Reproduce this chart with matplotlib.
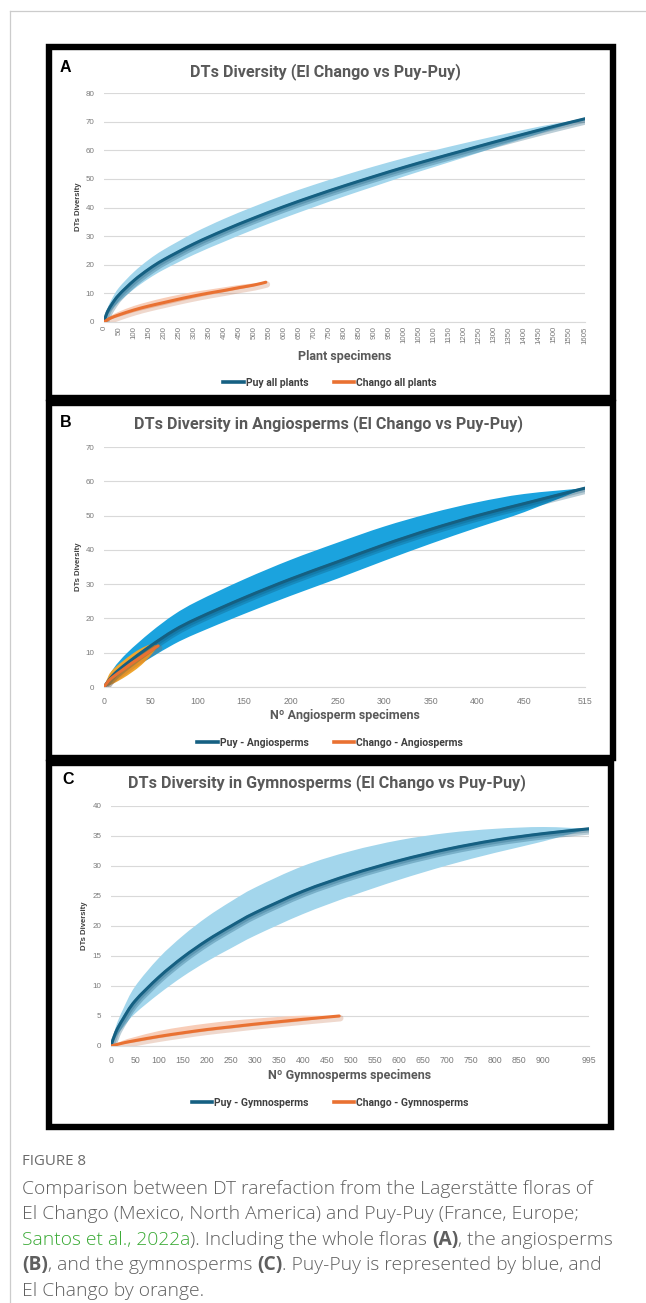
import numpy as np
import matplotlib
matplotlib.use("Agg")
import matplotlib.pyplot as plt
import matplotlib.patheffects as pe
from matplotlib.lines import Line2D
from matplotlib.patches import Rectangle, PathPatch
from matplotlib.path import Path

W, H = 646, 1303

# ---------------- data ----------------
# Panel A: whole floras
a_puy_x = [0, 10, 25, 50, 100, 150, 200, 300, 400, 500, 600, 700, 800, 900, 1000, 1100, 1200, 1300, 1400, 1500, 1605]
a_puy_y = [0, 3.2, 6.0, 9.5, 14.5, 18.5, 21.8, 27.3, 32.0, 36.3, 40.3, 44.0, 47.5, 50.8, 54.0, 57.0, 59.9, 62.8, 65.6, 68.3, 71.0]
a_puy_hi = [0, 4.3, 7.8, 12.0, 17.5, 21.8, 25.3, 31.1, 36.0, 40.3, 44.3, 47.9, 51.2, 54.3, 57.2, 59.9, 62.4, 64.8, 67.1, 69.2, 71.0]
a_puy_lo = [0, 2.1, 4.2, 7.0, 11.5, 15.2, 18.3, 23.5, 28.0, 32.3, 36.3, 40.1, 43.8, 47.3, 50.8, 54.1, 57.4, 60.8, 64.1, 67.4, 71.0]

a_chg_x = [0, 10, 25, 50, 100, 150, 200, 250, 300, 350, 400, 450, 500, 540]
a_chg_y = [0, 0.7, 1.5, 2.5, 4.2, 5.6, 6.8, 8.0, 9.1, 10.1, 11.0, 12.0, 12.9, 13.9]
a_chg_hi = [0, 1.2, 2.3, 3.6, 5.6, 7.1, 8.4, 9.5, 10.5, 11.3, 12.1, 12.9, 13.5, 13.9]
a_chg_lo = [0, 0.4, 1.0, 1.8, 3.4, 4.7, 5.9, 7.1, 8.3, 9.4, 10.4, 11.4, 12.5, 13.9]

# Panel B: angiosperms
b_puy_x = [0, 10, 25, 50, 75, 100, 150, 200, 250, 300, 350, 400, 450, 515]
b_puy_y = [0, 3.5, 7.0, 12.0, 16.5, 20.0, 26.0, 31.5, 36.5, 41.5, 46.0, 50.0, 53.5, 58.0]
b_puy_hi = [0, 5.3, 10.0, 16.0, 21.1, 25.0, 31.4, 37.1, 42.1, 46.8, 50.7, 53.9, 56.3, 58.0]
b_puy_lo = [0, 1.9, 4.4, 8.5, 12.5, 15.7, 21.3, 26.6, 31.6, 36.8, 41.8, 46.5, 51.0, 58.0]

b_chg_x = [0, 5, 10, 20, 30, 40, 50, 58]
b_chg_y = [0, 1.8, 3.0, 5.0, 7.0, 8.8, 10.6, 12.0]
b_chg_hi = [0, 3.4, 5.2, 7.5, 9.6, 11.3, 12.4, 12.0]
b_chg_lo = [0, 0.4, 1.0, 2.5, 4.3, 6.4, 9.2, 12.0]

# Panel C: gymnosperms
c_puy_x = [0, 10, 25, 50, 100, 150, 200, 250, 300, 400, 500, 600, 700, 800, 900, 995]
c_puy_y = [0, 2.3, 4.5, 7.5, 11.5, 14.8, 17.6, 20.0, 22.2, 25.8, 28.6, 30.9, 32.8, 34.3, 35.4, 36.2]
c_puy_hi = [0, 3.2, 6.1, 9.9, 14.7, 18.4, 21.5, 24.1, 26.4, 30.0, 32.5, 34.3, 35.5, 36.2, 36.5, 36.2]
c_puy_lo = [0, 1.5, 3.1, 5.4, 8.7, 11.6, 14.1, 16.3, 18.4, 22.0, 25.0, 27.7, 30.1, 32.2, 34.1, 36.2]

c_chg_x = [0, 25, 50, 100, 150, 200, 250, 300, 350, 400, 475]
c_chg_y = [0, 0.5, 0.9, 1.6, 2.2, 2.75, 3.2, 3.65, 4.05, 4.45, 5.0]
c_chg_hi = [0, 0.9, 1.5, 2.5, 3.2, 3.75, 4.2, 4.55, 4.85, 5.05, 5.0]
c_chg_lo = [0, 0.3, 0.6, 1.3, 1.9, 2.45, 2.9, 3.35, 3.75, 4.15, 5.0]

a_xticks = list(range(0, 1551, 50)) + [1605]
b_xticks = list(range(0, 451, 50)) + [515]
c_xticks = list(range(0, 901, 50)) + [995]

titles = ["DTs Diversity (El Chango vs Puy-Puy)",
          "DTs Diversity in Angiosperms (El Chango vs Puy-Puy)",
          "DTs Diversity in Gymnosperms (El Chango vs Puy-Puy)"]
xlabels = ["Plant specimens", "Nº Angiosperm specimens", "Nº Gymnosperms specimens"]
legend_labels = [("Puy all plants", "Chango all plants"),
                 ("Puy - Angiosperms", "Chango - Angiosperms"),
                 ("Puy - Gymnosperms", "Chango - Gymnosperms")]

# ---------------- style ----------------
PUY = "#156082"
CHG = "#E97132"
PUY_BAND_LIGHT = "#A3D6EC"
PUY_BAND_BRIGHT = "#1BA3DE"
CHG_BAND_LIGHT = "#F8CDB8"
CHG_BAND_GOLD = "#EFA52E"
GRID = "#D9D9D9"
TICK = "#7A7A7A"
TEXT = "#595959"

NARROW = ["Liberation Sans Narrow", "Roboto", "DejaVu Sans"]
SANS = ["Liberation Sans", "DejaVu Sans"]

fig = plt.figure(figsize=(W / 100, H / 100), dpi=100)
fig.patch.set_facecolor("white")


def fx(x):
    return x / W


def fy(y):
    return 1 - y / H


def axes_px(l, t, r, b):
    return fig.add_axes([fx(l), fy(b), (r - l) / W, (b - t) / H])


# page frame lines
fig.add_artist(Line2D([fx(10), fx(646)], [fy(11), fy(11)], color="#CCCCCC", lw=0.9))
fig.add_artist(Line2D([fx(10), fx(10)], [fy(11), fy(1303)], color="#CCCCCC", lw=0.9))

# panel frames
for (l, t, r, b) in [(49, 47, 613, 398), (49, 403, 613, 758), (49, 763, 611, 1127)]:
    fig.add_artist(Rectangle((fx(l), fy(b)), (r - l) / W, (b - t) / H, fill=False,
                             edgecolor="black", lw=4.6, transform=fig.transFigure))

# soft drop shadow under the curves
shadow = [pe.SimpleLineShadow(offset=(0.8, -1.6), shadow_color="#0C4F70", alpha=0.28, linewidth=5.0),
          pe.SimpleLineShadow(offset=(0.5, -0.8), shadow_color="#0C4F70", alpha=0.25, linewidth=3.6),
          pe.Normal()]
shadow_o = [pe.SimpleLineShadow(offset=(0.8, -1.6), shadow_color="#B8501C", alpha=0.22, linewidth=4.6),
            pe.Normal()]


def smooth_path(xs, ys):
    """Smoothed (Catmull-Rom as cubic Bezier) path through the given points."""
    pts = np.column_stack([xs, ys]).astype(float)
    n = len(pts)
    verts = [pts[0]]
    codes = [Path.MOVETO]
    for i in range(n - 1):
        p0 = pts[i - 1] if i > 0 else pts[i]
        p1 = pts[i]
        p2 = pts[i + 1]
        p3 = pts[i + 2] if i + 2 < n else pts[i + 1]
        verts += [p1 + (p2 - p0) / 6.0, p2 - (p3 - p1) / 6.0, p2]
        codes += [Path.CURVE4] * 3
    return verts, codes


def style_axes(ax, xmax, ymax, ystep, xticks, rot, xsize, ysize, xpad):
    ax.set_xlim(0, xmax)
    ax.set_ylim(0, ymax)
    ax.set_yticks(list(range(0, ymax + 1, ystep)))
    ax.set_xticks(xticks)
    ax.set_xticklabels([str(v) for v in xticks], rotation=rot, fontsize=xsize, color=TICK,
                       family=SANS)
    ax.set_yticklabels([str(v) for v in range(0, ymax + 1, ystep)], fontsize=ysize, color=TICK,
                       family=SANS)
    ax.tick_params(length=0, pad=xpad, axis="x")
    ax.tick_params(length=0, pad=7, axis="y")
    ax.grid(axis="y", color=GRID, lw=0.8)
    ax.set_axisbelow(True)
    for s in ("top", "right", "left"):
        ax.spines[s].set_visible(False)
    ax.spines["bottom"].set_color(GRID)
    ax.spines["bottom"].set_linewidth(0.8)
    ax.set_facecolor("none")


def draw_series(ax, x, y, lo, hi, band, color, eff, lw=2.2):
    uv, uc = smooth_path(x, hi)
    lv, lc = smooth_path(x[::-1], lo[::-1])
    lc = [Path.LINETO] + lc[1:]
    verts = uv + lv + [uv[0]]
    codes = uc + lc + [Path.CLOSEPOLY]
    ax.add_patch(PathPatch(Path(verts, codes), facecolor=band, edgecolor="none", lw=0, zorder=2))
    v, c = smooth_path(x, y)
    ax.add_patch(PathPatch(Path(v, c), fill=False, edgecolor=color, lw=lw, capstyle="round",
                           zorder=3, path_effects=eff))


# ---------- Panel A ----------
axA = axes_px(104, 93, 585, 322)
style_axes(axA, 1605, 80, 10, a_xticks, 90, 5.7, 5.8, 3)
draw_series(axA, a_puy_x, a_puy_y, a_puy_lo, a_puy_hi, PUY_BAND_LIGHT, PUY, shadow)
draw_series(axA, a_chg_x, a_chg_y, a_chg_lo, a_chg_hi, CHG_BAND_LIGHT, CHG, shadow_o)

# ---------- Panel B ----------
axB = axes_px(104, 447, 585, 687)
style_axes(axB, 515, 70, 10, b_xticks, 0, 6.3, 5.8, 7)
draw_series(axB, b_puy_x, b_puy_y, b_puy_lo, b_puy_hi, PUY_BAND_BRIGHT, PUY, shadow)
draw_series(axB, b_chg_x, b_chg_y, b_chg_lo, b_chg_hi, CHG_BAND_GOLD, CHG, shadow_o)

# ---------- Panel C ----------
axC = axes_px(111, 806, 589, 1046)
style_axes(axC, 995, 40, 5, c_xticks, 0, 6.3, 5.8, 7)
draw_series(axC, c_puy_x, c_puy_y, c_puy_lo, c_puy_hi, PUY_BAND_LIGHT, PUY, shadow)
draw_series(axC, c_chg_x, c_chg_y, c_chg_lo, c_chg_hi, CHG_BAND_LIGHT, CHG, shadow_o)

# ---------- panel texts ----------
panel_letters = ["A", "B", "C"]
letter_pos = [(60, 68), (60, 422), (62, 780)]
title_pos = [(325, 72), (329, 424), (327, 783)]
ylab_pos = [(78, 207), (78, 567), (84, 926)]
xlab_pos = [(345, 357), (345, 716), (350, 1075)]
leg_pos = [(330, 383), (330, 743), (330, 1103)]

for i in range(3):
    lx, ly = letter_pos[i]
    fig.text(fx(lx), fy(ly), panel_letters[i], fontsize=11.5, fontweight="bold",
             family=SANS, color="black", ha="left", va="center")
    tx, ty = title_pos[i]
    fig.text(fx(tx), fy(ty), titles[i], fontsize=11.6, fontweight="bold", family=NARROW,
             color=TEXT, ha="center", va="center")
    yx, yy = ylab_pos[i]
    fig.text(fx(yx), fy(yy), "DTs Diversity", fontsize=5.6, fontweight="bold", family=SANS,
             color="#404040", ha="center", va="center", rotation=90)
    xx, xy = xlab_pos[i]
    fig.text(fx(xx), fy(xy), xlabels[i], fontsize=9, fontweight="bold", family=NARROW,
             color=TEXT, ha="center", va="center")
    handles = [Line2D([], [], color=PUY, lw=2.6), Line2D([], [], color=CHG, lw=2.6)]
    lgx, lgy = leg_pos[i]
    fig.legend(handles, list(legend_labels[i]), loc="center",
               bbox_to_anchor=(fx(lgx), fy(lgy)), ncol=2, frameon=False,
               handlelength=2.0, handletextpad=0.15, columnspacing=2.4,
               prop={"family": NARROW, "weight": "bold", "size": 7.5},
               labelcolor="#404040")

# ---------- caption ----------
renderer = fig.canvas.get_renderer()
CAP = "#5F5F5F"
GREEN = "#3AAA35"
CAP_FONT = ["Open Sans", "DejaVu Sans"]


def run_width(s, **kw):
    t1 = fig.text(0, 0, "|" + s + "|", **kw)
    t2 = fig.text(0, 0, "||", **kw)
    w = t1.get_window_extent(renderer).width - t2.get_window_extent(renderer).width
    t1.remove()
    t2.remove()
    return w


caption_lines = [
    [("Comparison between DT rarefaction from the Lagerstätte floras of", CAP, "light")],
    [("El Chango (Mexico, North America) and Puy-Puy (France, Europe;", CAP, "light")],
    [("Santos et al., 2022a", GREEN, "light"), ("). Including the whole floras ", CAP, "light"),
     ("(A)", CAP, "bold"), (", the angiosperms", CAP, "light")],
    [("(B)", CAP, "bold"), (", and the gymnosperms ", CAP, "light"), ("(C)", CAP, "bold"),
     (". Puy-Puy is represented by blue, and", CAP, "light")],
    [("El Chango by orange.", CAP, "light")],
]

# size the caption so the first line spans the text column
w12 = run_width(caption_lines[0][0][0], fontsize=12, family=CAP_FONT, fontweight="light")
CAP_SIZE = 12 * 568.0 / w12

fig.text(fx(22), fy(1165), "FIGURE 8", fontsize=CAP_SIZE * 0.78, family=CAP_FONT,
         fontweight="normal", color="#6A6A6A", ha="left", va="baseline")

base_y = 1194
for k, line in enumerate(caption_lines):
    x = 22.0
    y = base_y + k * 25.4
    for text, col, wt in line:
        kw = dict(fontsize=CAP_SIZE, family=CAP_FONT, fontweight=wt, color=col)
        fig.text(fx(x), fy(y), text, ha="left", va="baseline", **kw)
        x += run_width(text, **kw)

fig.savefig("out.png", dpi=100, facecolor="white")
